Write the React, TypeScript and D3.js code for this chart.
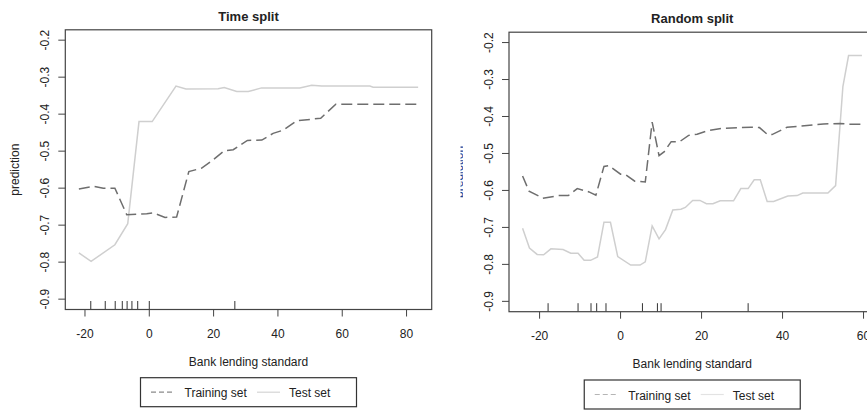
import React from 'react';
import * as d3 from 'd3';

// ---------- data ----------
const timeTrainX = [-21.9, -17.4, -14.3, -10.7, -7.0, -0.8, 1.2, 4.9, 8.5, 12.3, 16.3, 19.9, 23.3, 26.1, 30.5, 35.0, 38.5, 41.7, 45.8, 53.3, 58.0, 83.6];
const timeTrainY = [-0.602, -0.595, -0.600, -0.600, -0.672, -0.669, -0.667, -0.679, -0.678, -0.555, -0.546, -0.523, -0.499, -0.496, -0.471, -0.470, -0.452, -0.443, -0.418, -0.411, -0.373, -0.373];
const timeTestX = [-21.9, -18.1, -10.7, -6.7, -3.2, 0.9, 8.3, 11.4, 21.4, 23.3, 27.2, 30.8, 34.9, 46.8, 50.5, 53.6, 68.6, 69.6, 83.6];
const timeTestY = [-0.775, -0.798, -0.753, -0.696, -0.420, -0.420, -0.324, -0.332, -0.331, -0.328, -0.339, -0.339, -0.329, -0.329, -0.322, -0.324, -0.324, -0.327, -0.327];
const timeRug = [-18.2, -13.7, -10.6, -8.4, -6.9, -5.4, -3.6, 0, 26.6];

const randTrainX = [-24.2, -22.6, -19.2, -15.3, -12.9, -10.7, -7.8, -6.1, -4.1, -2.9, 0.0, 1.3, 3.5, 6.1, 7.8, 9.5, 10.8, 12.5, 14.6, 16.8, 18.9, 21.3, 25.0, 32.2, 34.3, 36.3, 37.4, 41.1, 43.6, 50.1, 54.2, 56.5, 59.6];
const randTrainY = [-0.561, -0.602, -0.621, -0.614, -0.614, -0.595, -0.604, -0.613, -0.535, -0.533, -0.556, -0.558, -0.575, -0.577, -0.415, -0.506, -0.495, -0.468, -0.468, -0.451, -0.448, -0.439, -0.432, -0.429, -0.430, -0.449, -0.449, -0.429, -0.427, -0.420, -0.419, -0.421, -0.421];
const randTestX = [-24.2, -22.5, -20.6, -19.0, -17.2, -14.2, -12.3, -10.5, -9.0, -7.4, -5.7, -4.1, -2.5, -0.7, 2.5, 4.8, 6.1, 7.8, 9.5, 11.1, 12.9, 14.9, 16.0, 17.8, 19.6, 21.2, 22.8, 24.6, 27.9, 29.7, 31.5, 33.0, 34.5, 36.2, 37.8, 41.3, 43.6, 45.0, 51.2, 53.1, 54.9, 56.3, 59.6];
const randTestY = [-0.702, -0.756, -0.773, -0.774, -0.758, -0.760, -0.770, -0.770, -0.789, -0.789, -0.780, -0.686, -0.686, -0.779, -0.802, -0.802, -0.793, -0.696, -0.731, -0.706, -0.653, -0.651, -0.646, -0.627, -0.627, -0.636, -0.636, -0.628, -0.628, -0.595, -0.595, -0.571, -0.571, -0.630, -0.630, -0.615, -0.614, -0.607, -0.607, -0.587, -0.319, -0.235, -0.235];
const randRug = [-17.9, -10.5, -7.3, -5.9, -3.6, 5.4, 9.1, 10.0, 31.5];

const xTicksTime = [-20, 0, 20, 40, 60, 80];
const xTicksRandom = [-20, 0, 20, 40, 60];
const yTicks = [-0.9, -0.8, -0.7, -0.6, -0.5, -0.4, -0.3, -0.2];
const yLimits = [-0.9, -0.2];
const seriesNames = ['Training set', 'Test set'];

const FONT = '"Liberation Sans", Arial, Helvetica, sans-serif';
const TXT = '#222';

type PanelProps = {
  id: string;
  title: string;
  x0: number; x1: number; y0: number; y1: number;
  trainX: number[]; trainY: number[]; testX: number[]; testY: number[];
  rug: number[]; xTicks: number[];
  legendTop: number;
  legendDash: string; legendSolid: string;
  ylabHidden?: boolean;
};

function expand(lo: number, hi: number): [number, number] {
  const d = (hi - lo) * 0.04;
  return [lo - d, hi + d];
}

function Panel(p: PanelProps) {
  const allX = p.trainX.concat(p.testX);
  const x = d3.scaleLinear().domain(expand(d3.min(allX)!, d3.max(allX)!)).range([p.x0, p.x1]);
  const y = d3.scaleLinear().domain(expand(yLimits[0], yLimits[1])).range([p.y1, p.y0]);
  const line = d3.line<[number, number]>().x(d => x(d[0])).y(d => y(d[1]));
  const train = line(p.trainX.map((v, i) => [v, p.trainY[i]]))!;
  const test = line(p.testX.map((v, i) => [v, p.testY[i]]))!;
  const cx = (p.x0 + p.x1) / 2;
  const cy = (p.y0 + p.y1) / 2;
  const lw = 216, lh = 29;
  const lx = cx - lw / 2;
  const ly = p.legendTop;
  return (
    <g>
      <text x={cx} y={p.y0 - 9} textAnchor="middle" fontSize={13} fontWeight="bold" fill={TXT}>{p.title}</text>
      {/* lines */}
      <path d={test} fill="none" stroke="#cfcfcf" strokeWidth={1.5} />
      <path d={train} fill="none" stroke="#6e6e6e" strokeWidth={1.5} strokeDasharray="11,5" />
      {/* rug */}
      {p.rug.map((r, i) => (
        <line key={'r' + i} x1={x(r)} x2={x(r)} y1={p.y1} y2={p.y1 - 8.5} stroke="#333" strokeWidth={1} />
      ))}
      {/* box */}
      <rect x={p.x0} y={p.y0} width={p.x1 - p.x0} height={p.y1 - p.y0} fill="none" stroke="#444" strokeWidth={1.2} />
      {/* y axis */}
      {yTicks.map((t, i) => (
        <g key={'y' + i}>
          <line x1={p.x0 - 7} x2={p.x0} y1={y(t)} y2={y(t)} stroke="#444" strokeWidth={1} />
          <text transform={`translate(${p.x0 - 20},${y(t)}) rotate(-90)`} textAnchor="middle" dominantBaseline="central" fontSize={12} fill={TXT}>{t.toFixed(1)}</text>
        </g>
      ))}
      {/* x axis */}
      {p.xTicks.map((t, i) => (
        <g key={'x' + i}>
          <line x1={x(t)} x2={x(t)} y1={p.y1} y2={p.y1 + 7} stroke="#444" strokeWidth={1} />
          <text x={x(t)} y={p.y1 + 28} textAnchor="middle" fontSize={12} fill={TXT}>{t}</text>
        </g>
      ))}
      <text x={cx} y={p.y1 + 56} textAnchor="middle" fontSize={12} fill={TXT}>Bank lending standard</text>
      {/* y label */}
      {p.ylabHidden ? (
        <g clipPath={`url(#clip-${p.id})`}>
          <text transform={`translate(${p.x0 - 50},${cy}) rotate(-90)`} textAnchor="middle" dominantBaseline="central" fontSize={12} fill="#1f3b8a">prediction</text>
        </g>
      ) : (
        <text transform={`translate(${p.x0 - 50},${cy}) rotate(-90)`} textAnchor="middle" dominantBaseline="central" fontSize={12} fill={TXT}>prediction</text>
      )}
      <defs>
        <clipPath id={`clip-${p.id}`}>
          <rect x={p.x0 - 48.5} y={p.y0} width={2.5} height={p.y1 - p.y0} />
        </clipPath>
      </defs>
      {/* legend */}
      <rect x={lx} y={ly} width={lw} height={lh} fill="white" stroke="#333" strokeWidth={1.2} />
      <line x1={lx + 10.5} x2={lx + 32.5} y1={ly + lh / 2} y2={ly + lh / 2} stroke={p.legendDash} strokeWidth={1.2} strokeDasharray="5,3" />
      <text x={lx + 44} y={ly + lh / 2 + 1} dominantBaseline="central" fontSize={12} fill={TXT}>{seriesNames[0]}</text>
      <line x1={lx + 116.5} x2={lx + 139.5} y1={ly + lh / 2} y2={ly + lh / 2} stroke={p.legendSolid} strokeWidth={1.2} />
      <text x={lx + 148.5} y={ly + lh / 2 + 1} dominantBaseline="central" fontSize={12} fill={TXT}>{seriesNames[1]}</text>
    </g>
  );
}

export default function App() {
  return (
    <svg width={867} height={410} style={{ position: 'absolute', left: 0, top: 0, background: 'white', fontFamily: FONT }}>
      <rect x={0} y={0} width={867} height={410} fill="white" />
      <Panel id="time" title="Time split" x0={65.3} x1={431.7} y0={29.8} y1={309.5}
        trainX={timeTrainX} trainY={timeTrainY} testX={timeTestX} testY={timeTestY}
        rug={timeRug} xTicks={xTicksTime} legendTop={377.7} legendDash="#8a8a8a" legendSolid="#d5d5d5" />
      <Panel id="rand" title="Random split" x0={509} x1={875.5} y0={32.2} y1={311.7}
        trainX={randTrainX} trainY={randTrainY} testX={randTestX} testY={randTestY}
        rug={randRug} xTicks={xTicksRandom} legendTop={380} legendDash="#b5b5b5" legendSolid="#e3e3e3" ylabHidden />
    </svg>
  );
}
